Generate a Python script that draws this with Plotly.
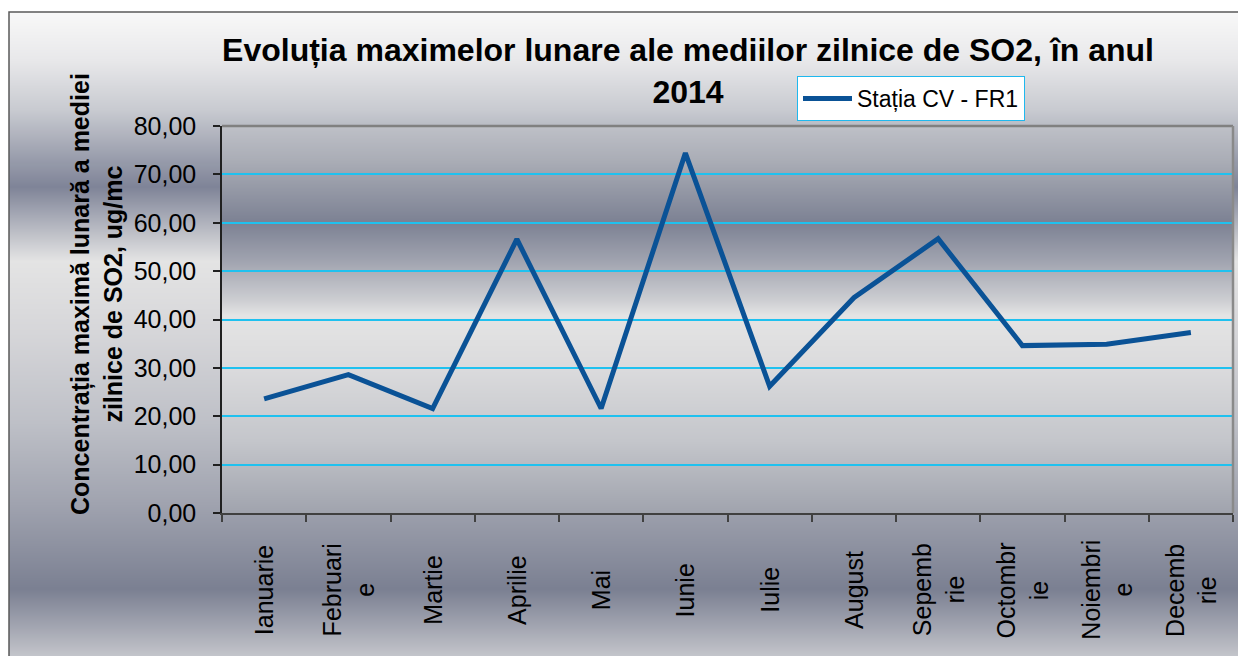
import zlib, struct, base64
import plotly.graph_objects as go

# ---------------- data ----------------
months = ["Ianuarie", "Februari<br>e", "Martie", "Aprilie", "Mai", "Iunie", "Iulie",
          "August", "Sepemb<br>rie", "Octombr<br>ie", "Noiembri<br>e", "Decemb<br>rie"]
so2_max = [23.6, 28.6, 21.6, 56.6, 21.6, 74.4, 26.2, 44.5, 56.7, 34.6, 34.9, 37.3]
series_name = "Stația CV - FR1"
title_text = "Evoluția maximelor lunare ale mediilor zilnice de SO2, în anul<br>2014"
y_title = "Concentrația maximă lunară a mediei<br>zilnice de SO2, ug/mc"

# ---------------- geometry helpers (page pixels -> paper) ----------------
OFF = 8                      # default body margin of the html page
W, H = 1246 - OFF, 656 - OFF
L, R, T, B = 222 - OFF, 1233 - OFF, 126 - OFF, 513 - OFF
def px(x):                   # x in page pixels
    return (x - OFF - L) / (R - L)
def py(y):                   # y in page pixels
    return (B - (y - OFF)) / (B - T)

FONT = "Liberation Sans, Arial, sans-serif"

# ---------------- gradient backgrounds ----------------
def gradient_rows(stops, y0, y1):
    rows = []
    for y in range(y0, y1):
        for i in range(len(stops) - 1):
            ya, ca = stops[i]
            yb, cb = stops[i + 1]
            if ya <= y <= yb:
                t = (y - ya) / (yb - ya) if yb > ya else 0
                rows.append(tuple(int(round(ca[k] + (cb[k] - ca[k]) * t)) for k in range(3)))
                break
        else:
            rows.append(stops[-1][1] if y > stops[-1][0] else stops[0][1])
    return rows

def png_uri(rows):
    raw = b"".join(b"\x00" + bytes(c) + bytes(c) for c in rows)
    def chunk(t, d):
        return struct.pack(">I", len(d)) + t + d + struct.pack(">I", zlib.crc32(t + d) & 0xffffffff)
    ihdr = struct.pack(">IIBBBBB", 2, len(rows), 8, 2, 0, 0, 0)
    png = b"\x89PNG\r\n\x1a\n" + chunk(b"IHDR", ihdr) + chunk(b"IDAT", zlib.compress(raw)) + chunk(b"IEND", b"")
    return "data:image/png;base64," + base64.b64encode(png).decode()

outer_stops = [(12, (248, 248, 248)), (60, (232, 232, 234)), (110, (200, 202, 208)),
               (185, (127, 132, 152)), (259, (228, 228, 228)), (330, (214, 214, 217)),
               (420, (190, 192, 199)), (500, (160, 163, 175)), (585, (123, 128, 146)),
               (620, (160, 163, 175)), (656, (200, 201, 206))]
plot_stops = [(126, (190, 192, 199)), (160, (170, 173, 182)), (222, (124, 129, 147)),
              (260, (160, 163, 175)), (300, (205, 206, 210)), (315, (228, 228, 228)),
              (370, (218, 218, 220)), (440, (196, 198, 203)), (513, (160, 163, 173))]

outer_img = png_uri(gradient_rows(outer_stops, 12, 656))
plot_img = png_uri(gradient_rows(plot_stops, 126, 513))

# ---------------- figure ----------------
fig = go.Figure()
fig.add_trace(go.Scatter(
    x=months, y=so2_max, mode="lines", name=series_name,
    line=dict(color="#0a5296", width=5),
))

annotations = []
for m in months:
    annotations.append(dict(
        x=m, xref="x", y=py(590), yref="paper", text=m, textangle=-90,
        showarrow=False, xanchor="center", yanchor="middle", align="center",
        font=dict(family=FONT, size=25, color="#000000"),
    ))
annotations.append(dict(
    x=px(96), xref="paper", y=py(294), yref="paper", text=y_title, textangle=-90,
    showarrow=False, xanchor="center", yanchor="middle", align="center",
    font=dict(family=FONT, size=25, color="#000000", weight="bold"),
))

fig.update_layout(
    width=W, height=H,
    margin=dict(l=L, r=W - R, t=T, b=H - B, pad=0),
    paper_bgcolor="#ffffff",
    plot_bgcolor="rgba(0,0,0,0)",
    separators=", ",
    title=dict(
        text=title_text, xref="container", x=(688 - OFF) / W, xanchor="center",
        yref="container", y=1 - 53 / H, yanchor="top",
        font=dict(family=FONT, size=32, color="#000000", weight="bold"),
    ),
    showlegend=True,
    legend=dict(
        x=px(797), y=py(76), xanchor="left", yanchor="top",
        bgcolor="#ffffff", bordercolor="#1fb8ee", borderwidth=1,
        font=dict(family=FONT, size=23, color="#000000"),
        itemwidth=49,
    ),
    xaxis=dict(
        type="category", range=[-0.5, len(months) - 0.5],
        showgrid=False, zeroline=False, showticklabels=False,
        showline=True, linecolor="#404040", linewidth=1.5,
        ticks="outside", ticklen=7, tickcolor="#404040", tickwidth=1.5,
        tickson="boundaries",
    ),
    yaxis=dict(
        range=[0, 80], dtick=10, tick0=0, tickformat=".2f",
        showgrid=True, gridcolor="#1fc1ef", gridwidth=1.5, zeroline=False,
        showline=True, linecolor="#202020", linewidth=1.5,
        ticks="outside", ticklen=7, tickcolor="#202020", tickwidth=1.5,
        ticklabelstandoff=12,
        tickfont=dict(family=FONT, size=25, color="#000000"),
    ),
    annotations=annotations,
    images=[
        dict(source=outer_img, xref="paper", yref="paper", x=px(9), y=py(12),
             sizex=(1250 - 9) / (R - L), sizey=(660 - 12) / (B - T),
             xanchor="left", yanchor="top", sizing="stretch", layer="below"),
        dict(source=plot_img, xref="paper", yref="paper", x=0, y=1, sizex=1, sizey=1,
             xanchor="left", yanchor="top", sizing="stretch", layer="below"),
    ],
    shapes=[
        dict(type="rect", xref="paper", yref="paper", x0=px(9), x1=px(1252), y0=py(662), y1=py(12),
             line=dict(color="#5a5a5a", width=1.5), fillcolor="rgba(0,0,0,0)", layer="above"),
        dict(type="line", xref="paper", yref="paper", x0=0, x1=1, y0=1, y1=1,
             line=dict(color="#808080", width=2.5), layer="above"),
        dict(type="line", xref="paper", yref="paper", x0=1, x1=1, y0=0, y1=1,
             line=dict(color="#8a8a8a", width=2.5), layer="above"),
    ],
)

fig.write_html("out.html")
